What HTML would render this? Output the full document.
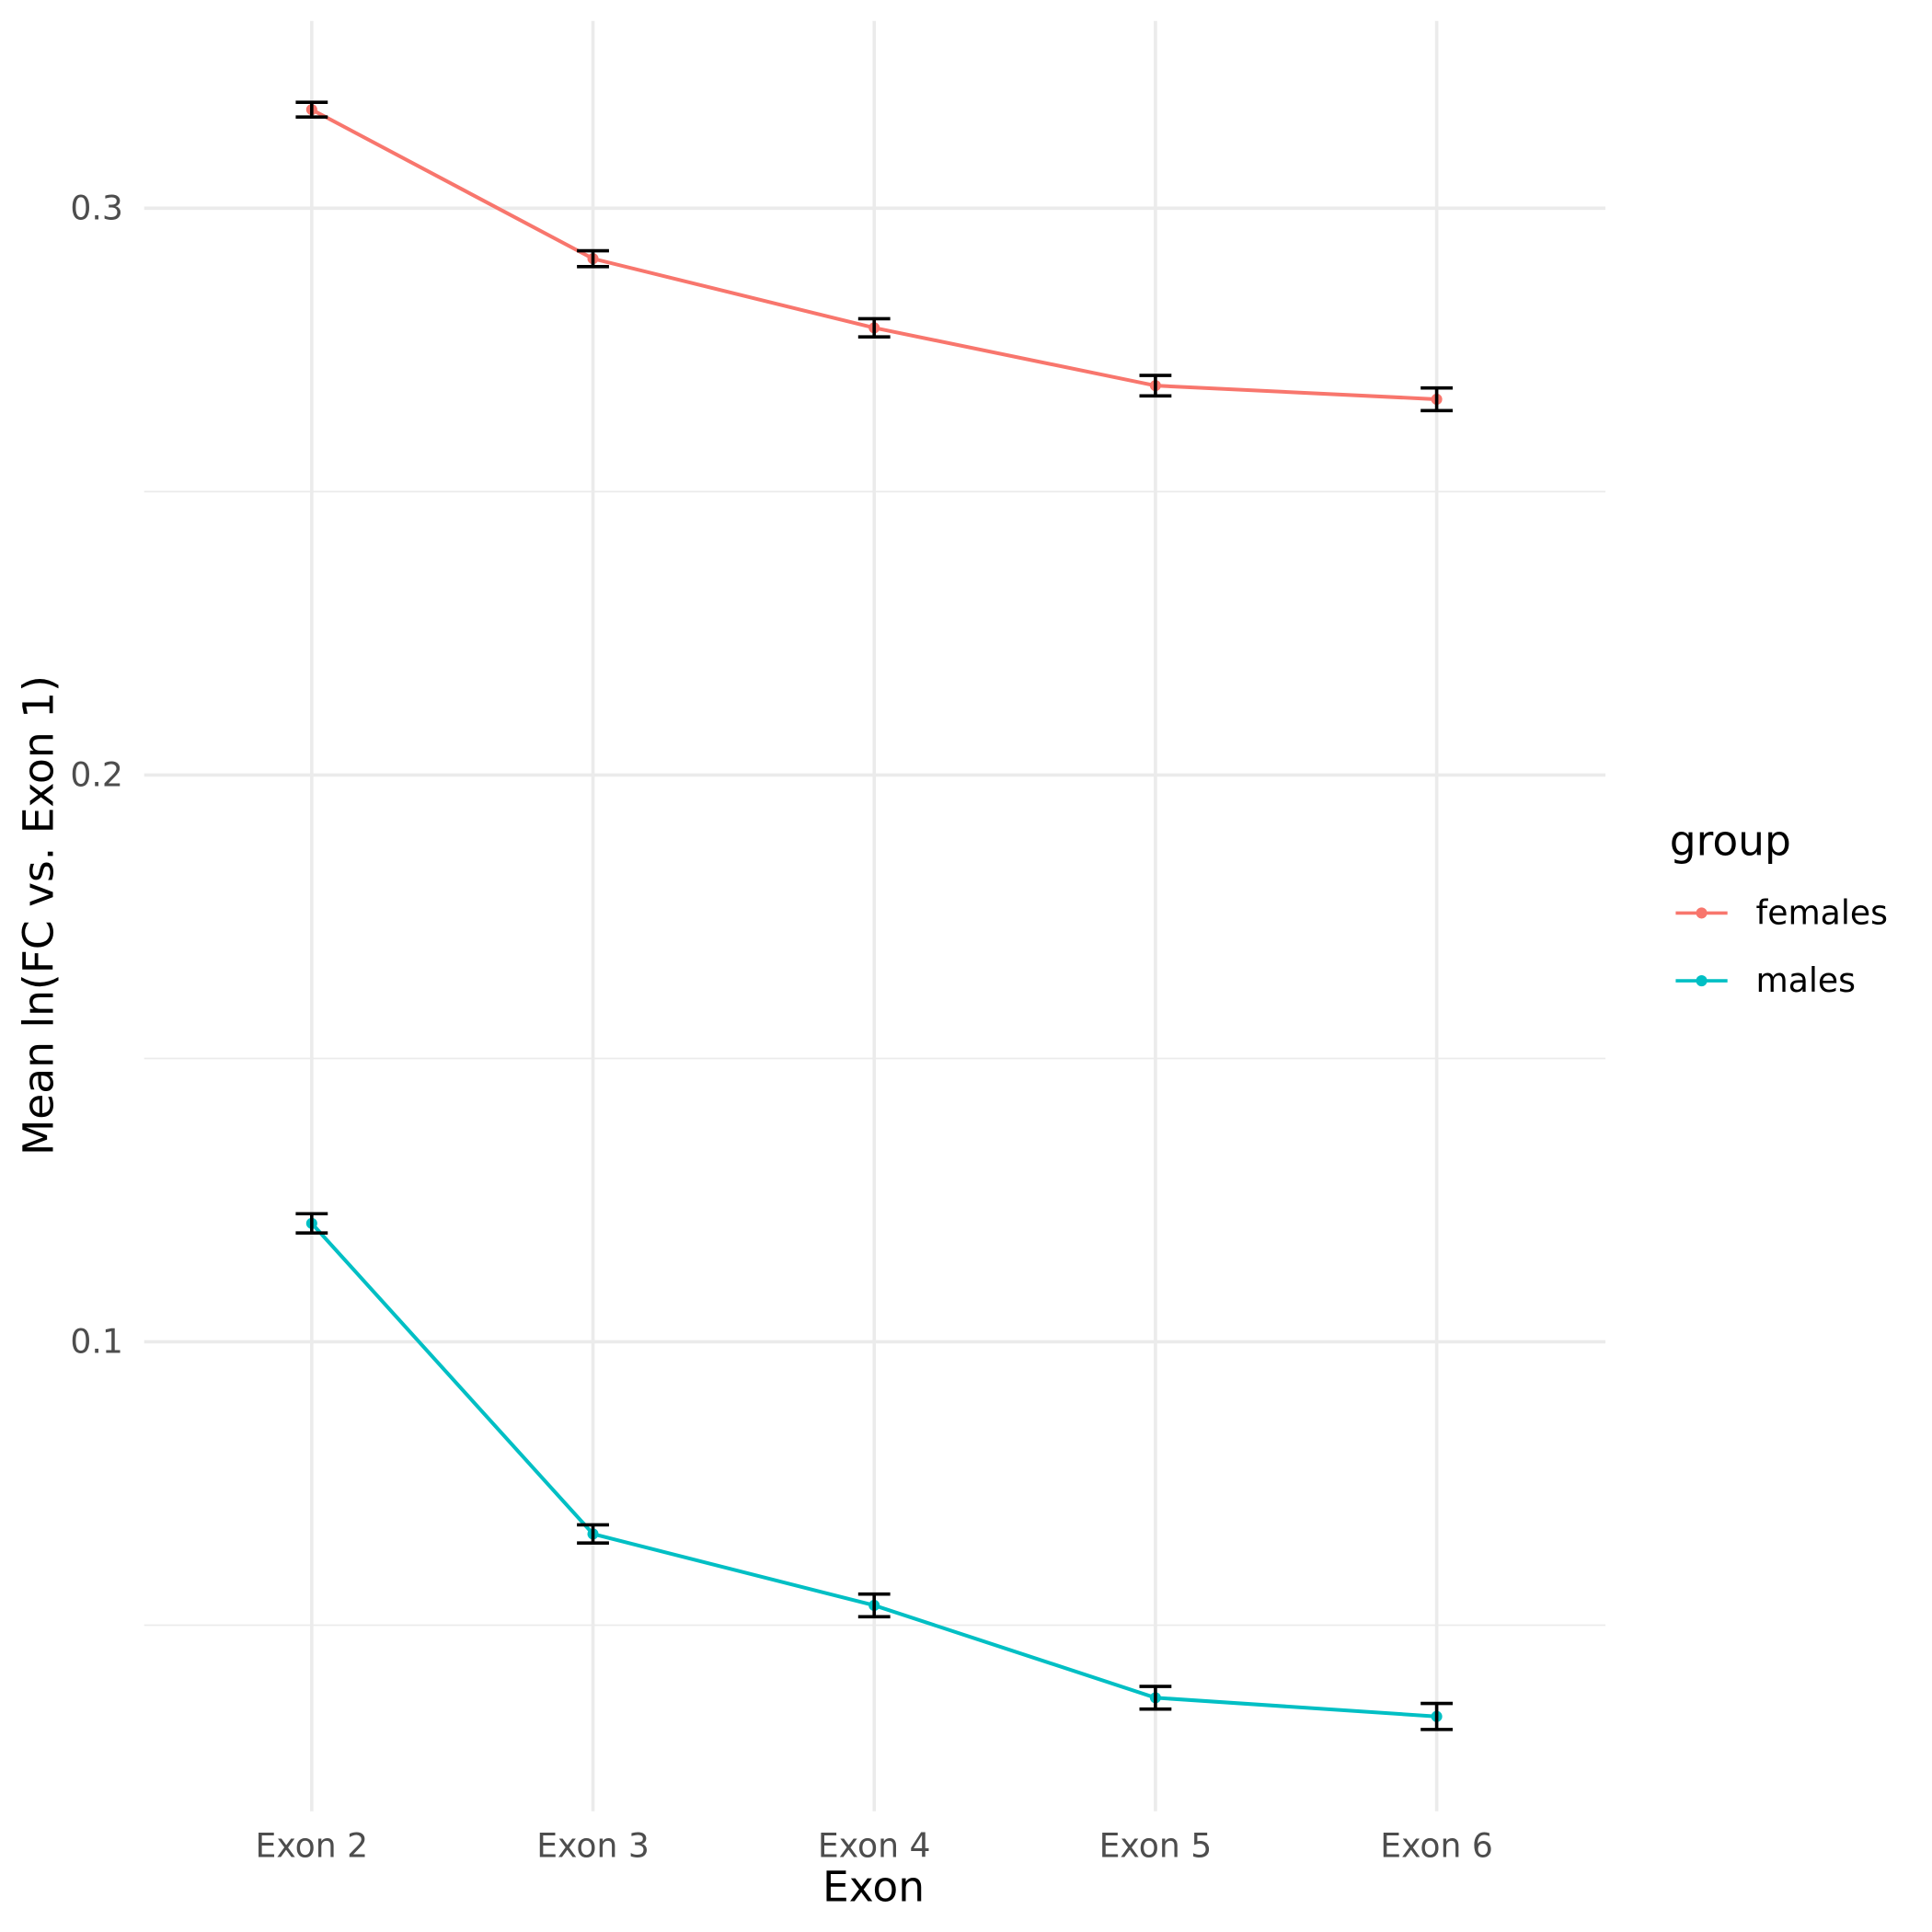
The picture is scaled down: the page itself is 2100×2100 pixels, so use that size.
<!DOCTYPE html>
<html><head><meta charset="utf-8"><style>html,body{margin:0;padding:0;background:#fff}svg{display:block}</style></head>
<body>
<svg id="chart" width="2100" height="2100" viewBox="0 0 1568 1568" xmlns="http://www.w3.org/2000/svg" font-family="'DejaVu Sans','Liberation Sans',sans-serif">
<g id="grid"></g>
<g id="series"></g>
<g id="axes"></g>
<text x="709" y="1543" font-size="34" text-anchor="middle" fill="#000">Exon</text>
<text transform="translate(43,743) rotate(-90)" font-size="34" text-anchor="middle" fill="#000">Mean ln(FC vs. Exon 1)</text>
<g>
<text x="1355" y="694" font-size="34" fill="#000">group</text>
<g>
<line x1="1360" y1="741" x2="1402" y2="741" stroke="#F8766D" stroke-width="2.7"/><circle cx="1381" cy="741" r="4.5" fill="#F8766D"/>
<text x="1425" y="750" font-size="27" fill="#000">females</text></g>
<g>
<line x1="1360" y1="796" x2="1402" y2="796" stroke="#00BFC4" stroke-width="2.7"/><circle cx="1381" cy="796" r="4.5" fill="#00BFC4"/>
<text x="1425" y="805" font-size="27" fill="#000">males</text></g>
</g>
<script>
const categories = ["Exon 2","Exon 3","Exon 4","Exon 5","Exon 6"];
const femalesMean = [0.3174,0.2911,0.2789,0.2687,0.2663];
const femalesErr = [0.0013,0.0014,0.0016,0.0018,0.0020];
const malesMean = [0.1209,0.0661,0.0535,0.0372,0.0339];
const malesErr = [0.0017,0.0016,0.0020,0.0020,0.0023];
const yMajor = [0.1,0.2,0.3];
const yMinor = [0.05,0.15,0.25];
const yLabels = ["0.1","0.2","0.3"];

const NS="http://www.w3.org/2000/svg";
const px0=117, px1=1303, py0=17, py1=1470;
function x(i){return 253 + i*228.25;}
function y(v){return 1089 - (v-0.1)*4600;}
function mk(tag,attrs,parent){const e=document.createElementNS(NS,tag);for(const k in attrs)e.setAttribute(k,attrs[k]);parent.appendChild(e);return e;}
const grid=document.getElementById('grid'), series=document.getElementById('series'), axes=document.getElementById('axes');
yMinor.forEach(v=>{const l=mk('line',{x1:px0,x2:px1,y1:y(v),y2:y(v),stroke:'#ebebeb','stroke-width':1.3},grid);

});
yMajor.forEach((v,i)=>{const l=mk('line',{x1:px0,x2:px1,y1:y(v),y2:y(v),stroke:'#ebebeb','stroke-width':2.7},grid);


const t=mk('text',{x:100,y:y(v)+9,'font-size':27,'text-anchor':'end',fill:'#4d4d4d'},axes);t.textContent=yLabels[i];

});
categories.forEach((c,i)=>{const l=mk('line',{x1:x(i),x2:x(i),y1:py0,y2:py1,stroke:'#ebebeb','stroke-width':2.7},grid);


const t=mk('text',{x:x(i),y:1507,'font-size':27,'text-anchor':'middle',fill:'#4d4d4d'},axes);t.textContent=c;

});
function drawSeries(name,mean,err,col){
  const pl=mk('polyline',{points:mean.map((v,i)=>x(i)+','+y(v)).join(' '),fill:'none',stroke:col,'stroke-width':3},series);
  
  
  mean.forEach((v,i)=>{
    const c=mk('circle',{cx:x(i),cy:y(v),r:4.5,fill:col},series);
    
    
    const g=mk('path',{d:`M${x(i)-13},${y(v+err[i])}H${x(i)+13}M${x(i)},${y(v+err[i])}V${y(v-err[i])}M${x(i)-13},${y(v-err[i])}H${x(i)+13}`,stroke:'#000','stroke-width':2.7,fill:'none'},series);
    
    
  });
}
drawSeries('females',femalesMean,femalesErr,'#F8766D');
drawSeries('males',malesMean,malesErr,'#00BFC4');
</script>
</svg>
</body></html>
